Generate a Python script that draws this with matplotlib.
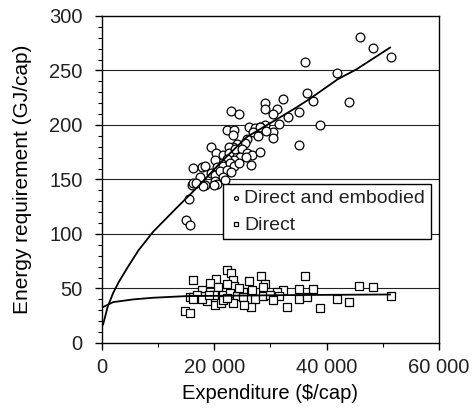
import matplotlib
matplotlib.use("Agg")
import matplotlib.pyplot as plt
from matplotlib.ticker import MultipleLocator, FuncFormatter

plt.rcParams['font.family'] = ['Liberation Sans', 'DejaVu Sans']
plt.rcParams['text.color'] = '#222222'

# Direct and embodied energy requirement (circles)
embodied_x = [45930, 48200, 51400, 36140, 41900, 36440, 37500, 44030, 38810, 35130,
              35130, 33110, 32170, 31460, 29080, 29080, 31100, 30390, 30390, 30390,
              23020, 24330, 29080, 28130,
              22200, 23500, 23270, 26230, 27180, 28130, 26830, 27770, 29200, 25870,
              25400, 23980, 23380, 22670, 19350, 20300, 21600, 22670, 23740, 24930,
              25760, 26710, 28130, 24570, 23500, 22310, 21130, 20180, 20420, 21600,
              22790, 23500, 24450, 25640, 26470, 17800, 18390, 16140, 17450, 18280,
              19350, 20180, 21010, 22200, 23030, 21600, 20060, 20420, 16020, 16260,
              15430, 14950, 15670, 16740, 18040, 19940, 21960]
embodied_y = [281, 271, 262, 257.5, 248, 229.6, 222, 221, 199.7, 182,
              212, 207.6, 223.9, 200.6, 219.9, 214.4, 214.4, 210, 193.9, 187.8,
              213, 210, 199.7, 198.4,
              195.4, 195, 190.8, 197.9, 197.2, 198.4, 193.6, 189.9, 194.8, 186.9,
              183.2, 182.6, 180.1, 180.1, 179.5, 174, 172.5, 174, 177.7, 177.7,
              174, 172.8, 175.2, 170.9, 167.9, 168.5, 164.9, 167.9, 161.8, 162.4,
              164.9, 162.4, 165.4, 170.9, 163.6, 161.8, 162.4, 160.6, 152.6, 144.7,
              155.7, 154.1, 158.1, 158.7, 157.2, 152.6, 148.9, 145.9, 144.7, 147.1,
              132.4, 112.8, 108, 147, 144, 145, 149.5]

# Direct energy requirement (squares)
direct_x = [22200, 22910, 16260, 20300, 19230, 23380, 26230, 28250, 36200, 29080,
            20650, 23500, 22200, 45810, 48190, 35130, 37510, 32280, 31100, 26710,
            25160, 17800, 15670, 16260, 16970, 18390, 19940, 21600, 22790, 23980,
            25160, 27300, 28720, 29910, 31460, 35130, 36440, 41900, 44030, 51400,
            32990, 38810, 30390, 26580, 25280, 23270, 20060, 21130, 21600, 18640,
            14830, 15670, 16140, 17800, 22200, 18990, 24450, 28720]
direct_y = [67, 64.5, 57.8, 59, 55.4, 57.8, 56.6, 61.5, 61.8, 54.1,
            51.7, 52.3, 54.1, 52.3, 51.1, 49.8, 49.8, 48.6, 46.8, 48.6,
            46.8, 48.6, 41.9, 42.5, 43.7, 43.1, 43.7, 44.3, 45.6, 43.1,
            41.9, 40.6, 43.1, 43.7, 43.1, 40.6, 41.9, 40.6, 37.6, 43.1,
            33.3, 32.1, 39.4, 33.3, 34.6, 36.4, 34.6, 37, 39.4, 38.3,
            29.6, 27.2, 40.6, 40.6, 41.3, 44, 50, 51]

# fitted curves
fit_emb_x = [200, 1000, 2000, 3000, 4400, 6500, 9100, 13300, 17400, 21000, 25800, 31700, 34600, 37000, 42000, 45300, 51300]
fit_emb_y = [17, 33, 46, 56, 68, 85, 102, 124, 145, 165, 189, 207, 216, 224, 242, 251, 271]
fit_dir_x = [200, 2000, 5600, 9100, 15000, 25000, 35000, 51300]
fit_dir_y = [33, 37.5, 40, 41.5, 43, 43.5, 44, 44.5]

fig = plt.figure(figsize=(4.73, 4.09), dpi=100)
ax = fig.add_axes([0.2156, 0.1614, 0.7124, 0.7996])

for yv in [50, 100, 150, 200, 250]:
    ax.axhline(yv, color="#222222", lw=0.8, zorder=1)

ax.plot(fit_emb_x, fit_emb_y, color="black", lw=1.3, zorder=3)
ax.plot(fit_dir_x, fit_dir_y, color="black", lw=1.3, zorder=3)

ax.scatter(embodied_x, embodied_y, s=40, marker="o", facecolor="white",
           edgecolor="black", linewidth=0.9, zorder=2, label="Direct and embodied")
ax.scatter(direct_x, direct_y, s=38, marker="s", facecolor="white",
           edgecolor="black", linewidth=0.9, zorder=2, label="Direct")

ax.set_xlim(0, 60000)
ax.set_ylim(0, 300)
ax.xaxis.set_major_locator(MultipleLocator(20000))
ax.xaxis.set_minor_locator(MultipleLocator(10000))
ax.yaxis.set_major_locator(MultipleLocator(50))
ax.yaxis.set_minor_locator(MultipleLocator(10))
ax.xaxis.set_major_formatter(FuncFormatter(lambda v, p: f"{int(v):,}".replace(",", " ")))
ax.tick_params(which="major", direction="out", length=5, width=1, labelsize=14.5,
               color="black", labelcolor="#222222")
ax.tick_params(which="minor", direction="out", length=3, width=0.8)
ax.tick_params(axis="x", pad=6)
ax.tick_params(axis="y", pad=9)

for s in ax.spines.values():
    s.set_linewidth(1)

ax.set_xlabel("Expenditure ($/cap)", fontsize=14.5, labelpad=5)
ax.set_ylabel("Energy requirement (GJ/cap)", fontsize=15, labelpad=12)

leg = ax.legend(loc="upper left", bbox_to_anchor=(0.359, 0.487), fontsize=14,
                markerscale=0.45, handletextpad=0.1, handlelength=0.7,
                borderpad=0.3, labelspacing=0.45, fancybox=False, framealpha=1,
                borderaxespad=0)
leg.get_frame().set_edgecolor("black")
leg.get_frame().set_linewidth(1)

plt.savefig("out.png", dpi=100)
plt.close()
